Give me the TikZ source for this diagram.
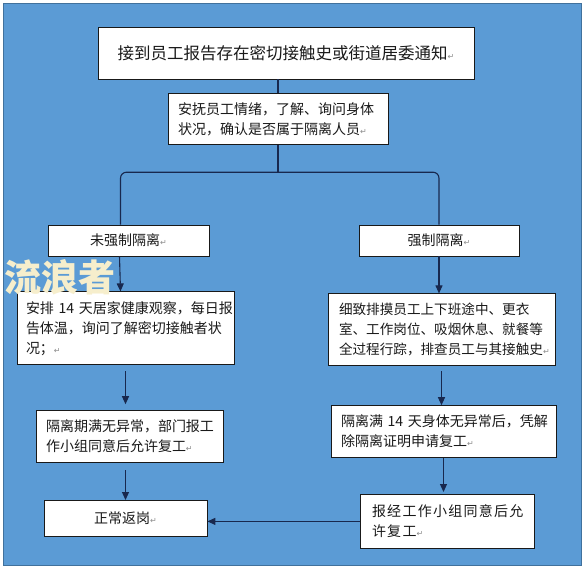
\documentclass[tikz,border=0pt]{standalone}
\usepackage{fontspec}
\newfontfamily\cjk{Noto Sans CJK SC}
\newfontfamily\markfont{DejaVu Sans}
\usetikzlibrary{positioning, arrows.meta}
\definecolor{bgblue}{RGB}{91,155,213}
\definecolor{bgedge}{RGB}{65,113,156}
\definecolor{linkcol}{RGB}{24,40,78}
\definecolor{wmark}{RGB}{246,238,204}
\newcommand\enterglyph{{\markfont\fontsize{8}{8}\selectfont\textcolor{black!45}{↵}}}

\begin{document}
\begin{tikzpicture}[x=1pt, y=-1pt,
     node distance = 14pt and 10pt,
     >={Triangle[length=8pt, width=7pt]},
        box/.style = {rectangle, draw=black!90, fill=white, line width=0.8pt, text=black!90,
                      font=\cjk\fontsize{14}{20}\selectfont, inner xsep=10pt, inner ysep=3pt},
       tbox/.style = {box, align=left, text width=#1},
       link/.style = {draw=linkcol, line width=1.1pt}
                    ]
\useasboundingbox (0,0) rectangle (587,571);
\fill[bgblue, draw=bgedge, line width=0.8pt] (3,3) rectangle (581,565);

\node (notice) [box, minimum width=376pt, minimum height=52pt, font=\cjk\fontsize{16.5}{20}\selectfont] at (286,53) {接到员工报告存在密切接触史或街道居委通知\enterglyph};
\node (calm) [tbox=200pt, minimum height=51pt, below=14pt of notice, xshift=-8pt] {安抚员工情绪，了解、询问身体\\状况，确认是否属于隔离人员\enterglyph};
\node (nof) [box, minimum width=161pt, minimum height=31pt] at (128.5,240.5) {未强制隔离\enterglyph};
\node (force) [box, minimum width=160pt, minimum height=31pt] at (439,240.5) {强制隔离\enterglyph};
\node (home) [tbox=199pt, inner xsep=9pt, minimum height=73pt, below=35pt of nof, xshift=-3pt] {安排~14~天居家健康观察，每日报\\告体温，询问了解密切接触者状\\况；\enterglyph};
\node (isofin) [tbox=167pt, minimum height=52pt, below=45pt of home, xshift=4pt] {隔离期满无异常，部门报工\\作小组同意后允许复工\enterglyph};
\node (back) [box, minimum width=163pt, minimum height=36pt, below=37pt of isofin, xshift=-4pt] {正常返岗\enterglyph};
\node (trace) [tbox=205pt, inner xsep=11pt, minimum height=72pt, below=37pt of force, xshift=2.5pt, font=\cjk\fontsize{13.6}{20}\selectfont] {细致排摸员工上下班途中、更衣\\室、工作岗位、吸烟休息、就餐等\\全过程行踪，排查员工与其接触史\enterglyph};
\node (release) [tbox=205pt, minimum height=52pt, below=39pt of trace, xshift=2pt] {隔离满~14~天身体无异常后，凭解\\除隔离证明申请复工\enterglyph};
\node (approve) [tbox=150pt, inner xsep=12pt, minimum height=54pt, below=36pt of release, xshift=3.5pt] {\addfontfeature{LetterSpace=9}报经工作小组同意后允\\许复工\enterglyph};

\draw[link] (notice.south -| calm.north) -- (calm.north);
\draw[link] (calm.south) -- ++(0,27) coordinate (fork);
\draw[link, rounded corners=6pt] (fork) -| ([xshift=-8pt]nof.north);
\draw[link, rounded corners=6pt] (fork) -| (force.north);
\draw[link, ->] ([xshift=-9pt]nof.south) -- ([xshift=-5pt]home.north);
\draw[link, ->, shorten <=6pt, shorten >=6pt] (home.south) -- (home.south |- isofin.north);
\draw[link, ->, shorten <=7pt] (back.north |- isofin.south) -- (back.north);
\draw[link, ->] (force.south) -- (force.south |- trace.north);
\draw[link, ->, shorten <=5pt] (trace.south) -- (trace.south |- release.north);
\draw[link, ->, shorten >=2pt] (release.south) -- (release.south |- approve.north);
\draw[link, ->] (approve.west) -- (approve.west -| back.east);

\node (wm) [font=\cjk\bfseries\fontsize{37}{37}\selectfont, text=wmark, inner sep=0pt] at (60,277) {流浪者};
\end{tikzpicture}
\end{document}
